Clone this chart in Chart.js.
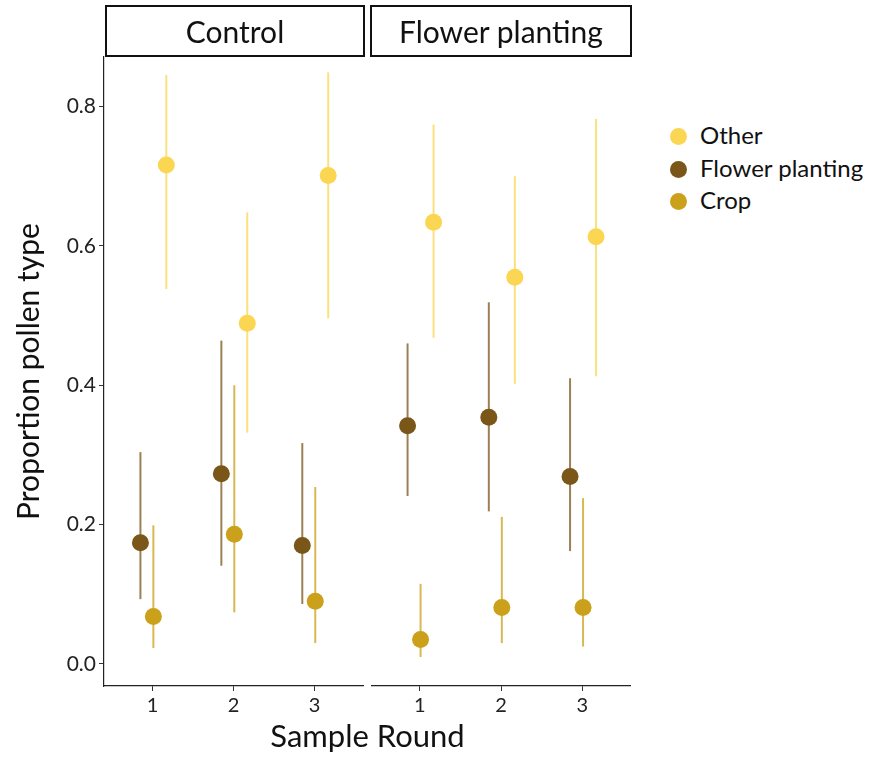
<!DOCTYPE html>
<html>
<head>
<meta charset="utf-8">
<title>Proportion pollen type</title>
<script src="https://cdn.jsdelivr.net/npm/chart.js@4.4.1/dist/chart.umd.min.js"></script>
<style>
  body { margin: 0; background: #fff; font-family: Lato, "Open Sans", sans-serif; color: #111; }
  #wrap { position: relative; width: 875px; height: 761px; overflow: hidden; }
  canvas { position: absolute; top: 0; }
  .strip {
    position: absolute; top: 5px; height: 52px; box-sizing: border-box;
    border: 2px solid #111; font-size: 30px; line-height: 48px; text-align: center;
  }
  #xtitle { position: absolute; top: 716px; left: 104px; width: 527px; text-align: center; font-size: 31px; line-height: 38px; }
  .legend { position: absolute; left: 670px; font-size: 24px; line-height: 28px; white-space: nowrap; }
  .legend span { display: inline-block; width: 17px; height: 17px; border-radius: 50%; vertical-align: -1px; margin-right: 13px; }
</style>
</head>
<body>
<div id="wrap">
  <canvas id="controlChart" width="365" height="761" style="left:0"></canvas>
  <canvas id="flowerChart" width="260" height="761" style="left:371px"></canvas>
  <div class="strip" style="left:105px; width:260px">Control</div>
  <div class="strip" style="left:370px; width:262px">Flower planting</div>
  <div id="xtitle">Sample Round</div>
  <div id="legendBox"></div>
</div>
<script>
const sampleRounds = [1, 2, 3];
const yTicks = [0, 0.2, 0.4, 0.6, 0.8];
const pollenTypes = ['Other', 'Flower planting', 'Crop'];

// Control treatment: estimate, lower and upper interval per sample round
const controlOther = [0.716, 0.489, 0.701];
const controlOtherLo = [0.538, 0.332, 0.496];
const controlOtherHi = [0.845, 0.648, 0.849];
const controlFlower = [0.174, 0.273, 0.170];
const controlFlowerLo = [0.093, 0.141, 0.086];
const controlFlowerHi = [0.304, 0.464, 0.317];
const controlCrop = [0.068, 0.186, 0.090];
const controlCropLo = [0.023, 0.074, 0.030];
const controlCropHi = [0.199, 0.400, 0.254];

// Flower planting treatment
const plantingOther = [0.634, 0.555, 0.613];
const plantingOtherLo = [0.468, 0.402, 0.413];
const plantingOtherHi = [0.774, 0.700, 0.782];
const plantingFlower = [0.342, 0.354, 0.269];
const plantingFlowerLo = [0.241, 0.219, 0.162];
const plantingFlowerHi = [0.460, 0.519, 0.410];
const plantingCrop = [0.035, 0.081, 0.081];
const plantingCropLo = [0.010, 0.030, 0.025];
const plantingCropHi = [0.115, 0.211, 0.238];

const colors = { 'Other': '#FAD653', 'Flower planting': '#7A5619', 'Crop': '#CBA01A' };
const barColors = { 'Other': 'rgba(250,214,83,0.75)', 'Flower planting': 'rgba(122,86,25,0.75)', 'Crop': 'rgba(203,160,26,0.75)' };
// horizontal dodge of each pollen type around the round position
const dodge = { 'Other': 0.17, 'Flower planting': -0.15, 'Crop': 0.01 };

function buildSeries(type, est, lo, hi) {
  return {
    label: type,
    data: sampleRounds.map((r, i) => ({ x: r + dodge[type], y: est[i], lo: lo[i], hi: hi[i] })),
    backgroundColor: colors[type],
    borderWidth: 0,
    pointRadius: 8.5,
    barColor: barColors[type]
  };
}

// vertical interval lines, drawn underneath the points
const errorBars = {
  id: 'errorBars',
  beforeDatasetsDraw(chart) {
    const { ctx, scales: { x, y } } = chart;
    chart.data.datasets.forEach(ds => {
      ctx.save();
      ctx.strokeStyle = ds.barColor;
      ctx.lineWidth = 2;
      ds.data.forEach(p => {
        const px = x.getPixelForValue(p.x);
        ctx.beginPath();
        ctx.moveTo(px, y.getPixelForValue(p.lo));
        ctx.lineTo(px, y.getPixelForValue(p.hi));
        ctx.stroke();
      });
      ctx.restore();
    });
  }
};

function makeChart(id, datasets, showY) {
  return new Chart(document.getElementById(id), {
    type: 'scatter',
    data: { datasets: datasets },
    plugins: [errorBars],
    options: {
      responsive: false,
      animation: false,
      devicePixelRatio: 1,
      layout: { autoPadding: false, padding: { top: 57, right: showY ? 2 : 0, left: 0, bottom: 0 } },
      plugins: { legend: { display: false }, tooltip: { enabled: false } },
      scales: {
        x: {
          type: 'linear', min: 0.4, max: 3.6,
          afterBuildTicks: s => { s.ticks = sampleRounds.map(v => ({ value: v })); },
          afterFit: s => { s.height = 75; s.paddingLeft = 0; s.paddingRight = 0; },
          grid: { drawOnChartArea: false, drawTicks: true, tickLength: 5, tickColor: '#333' },
          border: { display: true, color: '#222', width: 1.2 },
          ticks: { color: '#222', padding: 3, font: { family: 'Lato', size: 20 }, callback: v => v }
        },
        y: {
          display: showY,
          min: -0.0316, max: 0.871,
          afterBuildTicks: s => { s.ticks = yTicks.map(v => ({ value: v })); },
          afterFit: s => { s.width = showY ? 104 : 0; },
          grid: { drawOnChartArea: false, drawTicks: true, tickLength: 5, tickColor: '#333' },
          border: { display: true, color: '#222', width: 1.2 },
          ticks: { color: '#222', padding: 3, font: { family: 'Lato', size: 21 }, callback: v => v.toFixed(1) },
          title: { display: true, text: 'Proportion pollen type', color: '#111', padding: { top: 11, bottom: 0 }, font: { family: 'Lato', size: 30 } }
        }
      }
    }
  });
}

makeChart('controlChart', [
  buildSeries('Other', controlOther, controlOtherLo, controlOtherHi),
  buildSeries('Flower planting', controlFlower, controlFlowerLo, controlFlowerHi),
  buildSeries('Crop', controlCrop, controlCropLo, controlCropHi)
], true);

makeChart('flowerChart', [
  buildSeries('Other', plantingOther, plantingOtherLo, plantingOtherHi),
  buildSeries('Flower planting', plantingFlower, plantingFlowerLo, plantingFlowerHi),
  buildSeries('Crop', plantingCrop, plantingCropLo, plantingCropHi)
], false);

// legend entries
const legendBox = document.getElementById('legendBox');
pollenTypes.forEach((t, i) => {
  const row = document.createElement('div');
  row.className = 'legend';
  row.style.top = (121 + i * 32.5) + 'px';
  row.innerHTML = '<span style="background:' + colors[t] + '"></span>' + t;
  legendBox.appendChild(row);
});
</script>
</body>
</html>
